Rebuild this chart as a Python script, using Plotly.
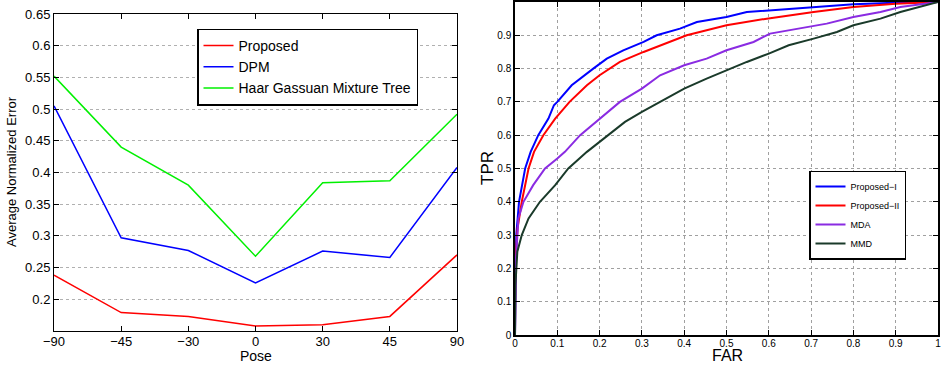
import plotly.graph_objects as go

# ---------- Left panel data ----------
pose_labels = ["\u221290", "\u221245", "\u221230", "0", "30", "45", "90"]
proposed_err = [0.238, 0.179, 0.173, 0.158, 0.160, 0.173, 0.270]
dpm_err = [0.505, 0.297, 0.277, 0.226, 0.276, 0.266, 0.408]
haar_err = [0.552, 0.440, 0.380, 0.268, 0.384, 0.387, 0.492]

# ---------- Right panel data (ROC) ----------
p1_far = [0, 0.001, 0.003, 0.0095, 0.016, 0.024, 0.037, 0.055, 0.079, 0.092, 0.1, 0.134, 0.185,
          0.217, 0.256, 0.304, 0.335, 0.39, 0.43, 0.50, 0.548, 0.60, 0.706, 0.80, 0.90, 1.0]
p1_tpr = [0, 0.2, 0.3, 0.4, 0.45, 0.5, 0.55, 0.6, 0.65, 0.69, 0.70, 0.75, 0.80,
          0.83, 0.855, 0.88, 0.90, 0.92, 0.94, 0.955, 0.97, 0.975, 0.985, 0.993, 0.998, 1.0]

p2_far = [0, 0.001, 0.006, 0.016, 0.032, 0.045, 0.067, 0.095, 0.129, 0.17, 0.2, 0.248,
          0.304, 0.367, 0.406, 0.50, 0.595, 0.706, 0.80, 0.90, 1.0]
p2_tpr = [0, 0.22, 0.32, 0.4, 0.5, 0.55, 0.6, 0.65, 0.7, 0.75, 0.78, 0.82,
          0.85, 0.88, 0.90, 0.93, 0.95, 0.97, 0.985, 0.995, 1.0]

mda_far = [0, 0.001, 0.008, 0.02, 0.043, 0.071, 0.1, 0.118, 0.154, 0.2, 0.248, 0.30, 0.343,
           0.40, 0.453, 0.50, 0.564, 0.603, 0.674, 0.737, 0.80, 0.864, 0.911, 1.0]
mda_tpr = [0, 0.2, 0.35, 0.4, 0.45, 0.5, 0.53, 0.55, 0.6, 0.65, 0.7, 0.74, 0.78,
           0.81, 0.83, 0.855, 0.88, 0.905, 0.92, 0.935, 0.955, 0.97, 0.985, 1.0]

mmd_far = [0, 0.001, 0.0055, 0.016, 0.032, 0.059, 0.095, 0.126, 0.17, 0.2, 0.26, 0.30, 0.343,
           0.40, 0.453, 0.50, 0.548, 0.60, 0.647, 0.706, 0.761, 0.80, 0.864, 0.911, 0.958, 1.0]
mmd_tpr = [0, 0.15, 0.25, 0.3, 0.35, 0.4, 0.45, 0.5, 0.55, 0.58, 0.64, 0.67, 0.70,
           0.74, 0.77, 0.795, 0.82, 0.845, 0.87, 0.89, 0.91, 0.93, 0.95, 0.97, 0.985, 1.0]

FONT = "Liberation Sans, Arial, Helvetica, sans-serif"

fig = go.Figure()
xi = list(range(len(pose_labels)))
fig.add_trace(go.Scatter(x=xi, y=proposed_err, mode="lines", name="Proposed",
                         line=dict(color="#ff0000", width=1.5), xaxis="x", yaxis="y", legend="legend"))
fig.add_trace(go.Scatter(x=xi, y=dpm_err, mode="lines", name="DPM",
                         line=dict(color="#0000ff", width=1.5), xaxis="x", yaxis="y", legend="legend"))
fig.add_trace(go.Scatter(x=xi, y=haar_err, mode="lines", name="Haar Gassuan Mixture Tree",
                         line=dict(color="#00f000", width=1.5), xaxis="x", yaxis="y", legend="legend"))

fig.add_trace(go.Scatter(x=p1_far, y=p1_tpr, mode="lines", name="Proposed\u2212I",
                         line=dict(color="#0000ff", width=2), xaxis="x2", yaxis="y2", legend="legend2"))
fig.add_trace(go.Scatter(x=p2_far, y=p2_tpr, mode="lines", name="Proposed\u2212II",
                         line=dict(color="#ff0000", width=2), xaxis="x2", yaxis="y2", legend="legend2"))
fig.add_trace(go.Scatter(x=mda_far, y=mda_tpr, mode="lines", name="MDA",
                         line=dict(color="#8a2be2", width=2), xaxis="x2", yaxis="y2", legend="legend2"))
fig.add_trace(go.Scatter(x=mmd_far, y=mmd_tpr, mode="lines", name="MMD",
                         line=dict(color="#1a3a2a", width=2), xaxis="x2", yaxis="y2", legend="legend2"))

W, H = 948, 365
def px_x(a, b):
    return [a / W, b / W]
def px_y(top, bottom):
    return [(H - bottom) / H, (H - top) / H]

def title_ann(text, x, y, size, angle=0, yanchor="middle"):
    return dict(text=text, x=x / W, y=(H - y) / H, xref="paper", yref="paper",
                xanchor="center", yanchor=yanchor, showarrow=False, borderpad=0,
                textangle=angle, font=dict(size=size, color="black", family=FONT))

fig.update_layout(
    width=W, height=H,
    margin=dict(l=0, r=0, t=0, b=0, pad=0, autoexpand=False),
    paper_bgcolor="white", plot_bgcolor="white",
    font=dict(family=FONT, color="black"),
    showlegend=True,
    xaxis=dict(domain=px_x(54, 457), range=[0, 6], tickvals=xi, ticktext=pose_labels,
               anchor="y", automargin=False, ticklabelstandoff=-2,
               ticks="inside", ticklen=5, tickcolor="black", showline=True, linecolor="black",
               linewidth=1, mirror="ticks", showgrid=False, zeroline=False,
               tickfont=dict(size=13)),
    yaxis=dict(domain=px_y(14, 331), range=[0.15, 0.65], anchor="x", automargin=False,
               tickvals=[0.2, 0.25, 0.3, 0.35, 0.4, 0.45, 0.5, 0.55, 0.6, 0.65],
               ticktext=["0.2", "0.25", "0.3", "0.35", "0.4", "0.45", "0.5", "0.55", "0.6", "0.65"],
               ticks="inside", ticklen=5, tickcolor="black", showline=True, linecolor="black",
               linewidth=1, mirror="ticks", showgrid=True, gridcolor="#b0b0b0", griddash="dot",
               gridwidth=1, zeroline=False, tickfont=dict(size=13)),
    xaxis2=dict(domain=px_x(515, 938), range=[0, 1], dtick=0.1, tickformat="~g", anchor="y2",
                automargin=False, ticklabelstandoff=-2,
                ticks="inside", ticklen=5, tickcolor="black", showline=True, linecolor="black",
                linewidth=1.5, mirror="ticks", showgrid=True, gridcolor="#a0a0a0", griddash="dot",
                gridwidth=1, zeroline=False, tickfont=dict(size=10)),
    yaxis2=dict(domain=px_y(2, 335), range=[0, 1], dtick=0.1, tickformat="~g", anchor="x2",
                automargin=False,
                ticks="inside", ticklen=5, tickcolor="black", showline=True, linecolor="black",
                linewidth=1.5, mirror="ticks", showgrid=True, gridcolor="#a0a0a0", griddash="dot",
                gridwidth=1, zeroline=False, tickfont=dict(size=10)),
    legend=dict(x=197 / W, y=(H - 67) / H, xanchor="left", yanchor="middle",
                bgcolor="white", bordercolor="black", borderwidth=1.5,
                font=dict(size=14), tracegroupgap=0, itemwidth=30),
    legend2=dict(x=809 / W, y=(H - 215) / H, xanchor="left", yanchor="middle",
                 bgcolor="white", bordercolor="black", borderwidth=1.5,
                 font=dict(size=9), tracegroupgap=0, itemwidth=30),
    annotations=[
        title_ann("Pose", 256, 365, 14, yanchor="bottom"),
        title_ann("Average Normalized Error", 12, 172, 13, -90),
        title_ann("FAR", 727, 365, 16, yanchor="bottom"),
        title_ann("TPR", 487, 168, 17, -90),
    ],
)

fig.write_html("out.html", config={"displayModeBar": False},
               post_script="document.documentElement.style.margin='0';document.body.style.margin='0';")
